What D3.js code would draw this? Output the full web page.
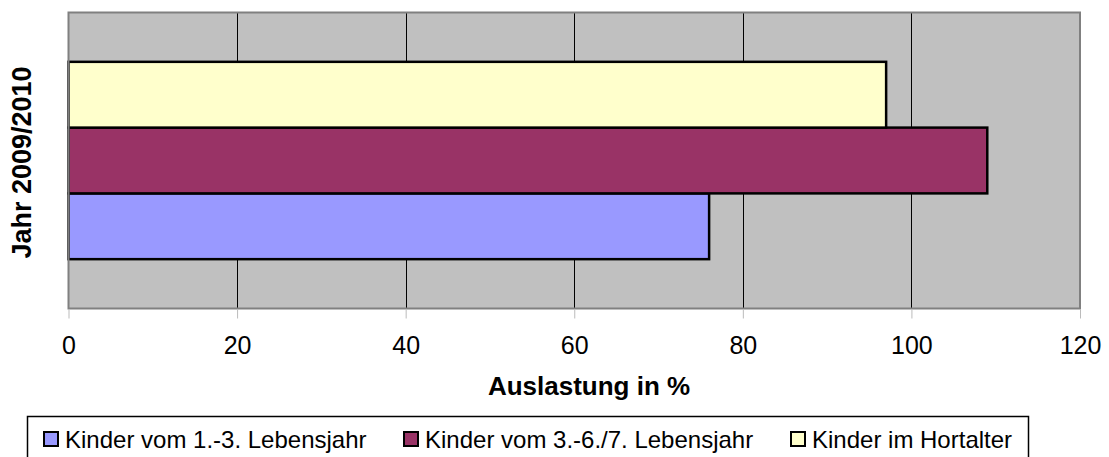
<!DOCTYPE html>
<html>
<head>
<meta charset="utf-8">
<script src="https://cdn.jsdelivr.net/npm/d3@7"></script>
<style>
  body { margin: 0; background: #fff; }
  text { font-family: Arial, "Liberation Sans", sans-serif; fill: #000; }
</style>
</head>
<body>
<svg id="chart" width="1109" height="457"></svg>
<script>
const categories = ["Jahr 2009/2010"];
const seriesNames = ["Kinder vom 1.-3. Lebensjahr", "Kinder vom 3.-6./7. Lebensjahr", "Kinder im Hortalter"];
const seriesValues = [76, 109, 97];
const seriesColors = ["#9999FF", "#993366", "#FFFFCC"];
const xTicks = [0, 20, 40, 60, 80, 100, 120];

const width = 1109, height = 457;
const plot = { left: 68.5, top: 12.5, right: 1080, bottom: 308.5 };

const svg = d3.select("#chart");

const x = d3.scaleLinear().domain([0, 120]).range([plot.left, plot.right]);
const yCat = d3.scaleBand().domain(categories).range([plot.bottom, plot.top]).paddingOuter(0.25).paddingInner(0);
// first series at the bottom, like Excel
const ySer = d3.scaleBand().domain(d3.range(seriesNames.length)).range([yCat.bandwidth(), 0]);

// plot background
svg.append("rect")
  .attr("x", plot.left).attr("y", plot.top)
  .attr("width", plot.right - plot.left).attr("height", plot.bottom - plot.top)
  .attr("fill", "#C0C0C0");

// gridlines
svg.append("g").selectAll("line")
  .data(xTicks.filter(d => d > 0 && d < 120))
  .join("line")
  .attr("x1", d => Math.round(x(d)) + 0.5).attr("x2", d => Math.round(x(d)) + 0.5)
  .attr("y1", plot.top).attr("y2", plot.bottom)
  .attr("stroke", "#000").attr("stroke-width", 1);

// bars
const g = svg.append("g").attr("transform", `translate(0,${yCat(categories[0])})`);
g.selectAll("rect")
  .data(seriesValues)
  .join("rect")
  .attr("x", x(0))
  .attr("y", (d, i) => ySer(i))
  .attr("width", d => x(d) - x(0))
  .attr("height", ySer.bandwidth())
  .attr("fill", (d, i) => seriesColors[i])
  .attr("stroke", "#000")
  .attr("stroke-width", 2.5);

// plot border
svg.append("rect")
  .attr("x", plot.left).attr("y", plot.top)
  .attr("width", plot.right - plot.left).attr("height", plot.bottom - plot.top)
  .attr("fill", "none").attr("stroke", "#808080").attr("stroke-width", 2);

// x axis ticks + labels
const xAxis = d3.axisBottom(x).tickValues(xTicks).tickSize(9).tickPadding(18).tickSizeOuter(0);
const ax = svg.append("g").attr("transform", `translate(0,${plot.bottom + 1})`).call(xAxis);
ax.select(".domain").remove();
ax.selectAll(".tick line").attr("stroke", "#BBBBBB").attr("stroke-width", 1);
ax.selectAll(".tick text")
  .attr("font-size", 25)
  .attr("font-family", "Arial, 'Liberation Sans', sans-serif")
  .attr("fill", "#000");

// axis titles
svg.append("text")
  .attr("x", 589).attr("y", 395)
  .attr("text-anchor", "middle")
  .attr("font-size", 26).attr("font-weight", "bold")
  .text("Auslastung in %");

svg.append("text")
  .attr("transform", `translate(31,${(plot.top + plot.bottom) / 2 + 2}) rotate(-90)`)
  .attr("text-anchor", "middle")
  .attr("font-size", 27).attr("font-weight", "bold")
  .text(categories[0]);

// legend
svg.append("rect")
  .attr("x", 27.5).attr("y", 416.5)
  .attr("width", 1001).attr("height", 60)
  .attr("fill", "#fff").attr("stroke", "#000").attr("stroke-width", 1.5);

const legendX = [43, 403, 790];
const lg = svg.append("g").selectAll("g")
  .data(seriesNames)
  .join("g")
  .attr("transform", (d, i) => `translate(${legendX[i]},431)`);
lg.append("rect")
  .attr("x", 1).attr("y", 1)
  .attr("width", 14).attr("height", 14)
  .attr("fill", (d, i) => seriesColors[i])
  .attr("stroke", "#000").attr("stroke-width", 2);
lg.append("text")
  .attr("x", 22).attr("y", 16.5)
  .attr("font-size", 24)
  .text(d => d);
</script>
</body>
</html>
